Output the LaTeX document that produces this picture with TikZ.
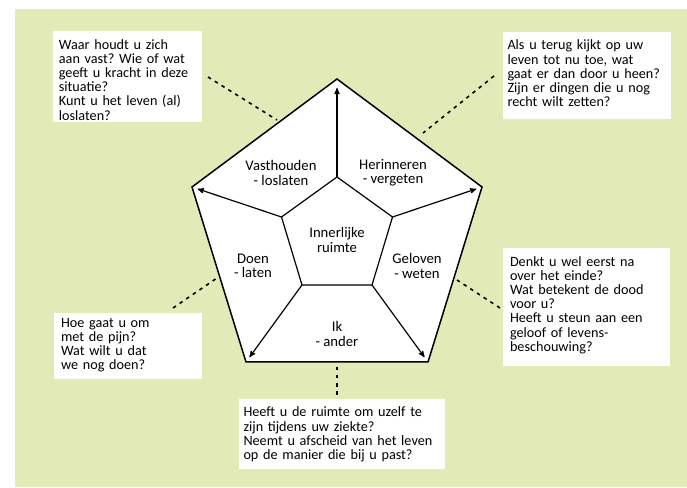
\documentclass[tikz,border=0pt]{standalone}
\usepackage{fontspec}
\setmainfont{Carlito}
\usetikzlibrary{arrows}
\definecolor{bggreen}{RGB}{226,234,184}
\frenchspacing

\begin{document}
\begin{tikzpicture}[x=1pt,y=1pt,>=stealth',
		outer line/.style={line width=1.5pt,line join=miter},
		inner line/.style={line width=1.2pt},
		spoke/.style={->,draw,line width=1.2pt,shorten >=6pt},
		dots/.style={line width=1.6pt,dash pattern=on 3.5pt off 4.5pt},
		label node/.style={align=center,inner sep=0pt,font=\fontsize{14.7}{14.2}\selectfont},
		qbox/.style={fill=white,anchor=north west,align=left,inner xsep=7.5pt,inner ysep=4pt,
			text height=14pt,font=\fontsize{14.2}{14.2}\selectfont}]
	\useasboundingbox (0,0) rectangle (687,487);
	\fill[bggreen] (15,0) rectangle (687,477.5);

	% pentagons
	\coordinate (o1) at (337,408);
	\coordinate (o2) at (192,300);
	\coordinate (o3) at (246,125);
	\coordinate (o4) at (428,125);
	\coordinate (o5) at (482,300);
	\coordinate (i1) at (337,310);
	\coordinate (i2) at (281.5,270);
	\coordinate (i3) at (302,202);
	\coordinate (i4) at (372,202);
	\coordinate (i5) at (392.5,270);
	\filldraw[fill=white,outer line] (o1) -- (o2) -- (o3) -- (o4) -- (o5) -- cycle;
	\draw[inner line] (i1) -- (i2) -- (i3) -- (i4) -- (i5) -- cycle;
	\path
		(i1) edge [spoke,shorten >=9pt] (o1)
		(i2) edge [spoke] (o2)
		(i3) edge [spoke] (o3)
		(i4) edge [spoke] (o4)
		(i5) edge [spoke] (o5);

	\node[label node] (vast) at (281,314) {Vasthouden\\- loslaten};
	\node[label node] (her) at (393,314) {Herinneren\\- vergeten};
	\node[label node] (inner) at (337,247) {Innerlijke\\ruimte};
	\node[label node] (doen) at (253,221) {Doen\\- laten};
	\node[label node] (gel) at (417,221) {Geloven\\- weten};
	\node[label node] (ik) at (337,153) {Ik\\- ander};

	% question boxes
	\node[qbox,inner xsep=6pt,text width=136.6pt,text depth=69.3pt] (qvast) at (52.7,456)
		{Waar houdt u zich\\aan vast? Wie of wat\\geeft u kracht in deze\\situatie?\\Kunt u het leven (al)\\loslaten?};
	\node[qbox,inner xsep=5pt,text width=158pt,text depth=65.3pt] (qher) at (502.3,455.3)
		{Als u terug kijkt op uw\\leven tot nu toe, wat\\gaat er dan door u heen?\\Zijn er dingen die u nog\\recht wilt zetten?};
	\node[qbox,text width=152.7pt,text height=14.3pt,text depth=96pt] (qgel) at (502.3,239.3)
		{Denkt u wel eerst na\\over het einde?\\Wat betekent de dood\\voor u?\\Heeft u steun aan een\\geloof of levens-\\beschouwing?};
	\node[qbox,text width=133pt,text height=10.3pt,text depth=48.3pt] (qdoen) at (53.3,174.3)
		{Hoe gaat u om\\met de pijn?\\Wat wilt u dat\\we nog doen?};
	\node[qbox,inner xsep=5pt,text width=196.7pt,text height=13.7pt,text depth=47.6pt] (qik) at (238.3,88)
		{Heeft u de ruimte om uzelf te\\zijn tijdens uw ziekte?\\Neemt u afscheid van het leven\\op de manier die bij u past?};

	% dotted connectors
	\coordinate (dv1) at (208,410);
	\coordinate (dv2) at (277,367);
	\coordinate (dh1) at (494,411);
	\coordinate (dh2) at (423,354);
	\coordinate (dd1) at (173,179);
	\coordinate (dd2) at (217,209);
	\coordinate (dg1) at (500,179);
	\coordinate (dg2) at (457,207);
	\coordinate (di1) at (337,120);
	\coordinate (di2) at (337,92);
	\draw[dots] (dv1) -- (dv2);
	\draw[dots] (dh1) -- (dh2);
	\draw[dots] (dd1) -- (dd2);
	\draw[dots] (dg1) -- (dg2);
	\draw[dots] (di1) -- (di2);
\end{tikzpicture}
\end{document}
